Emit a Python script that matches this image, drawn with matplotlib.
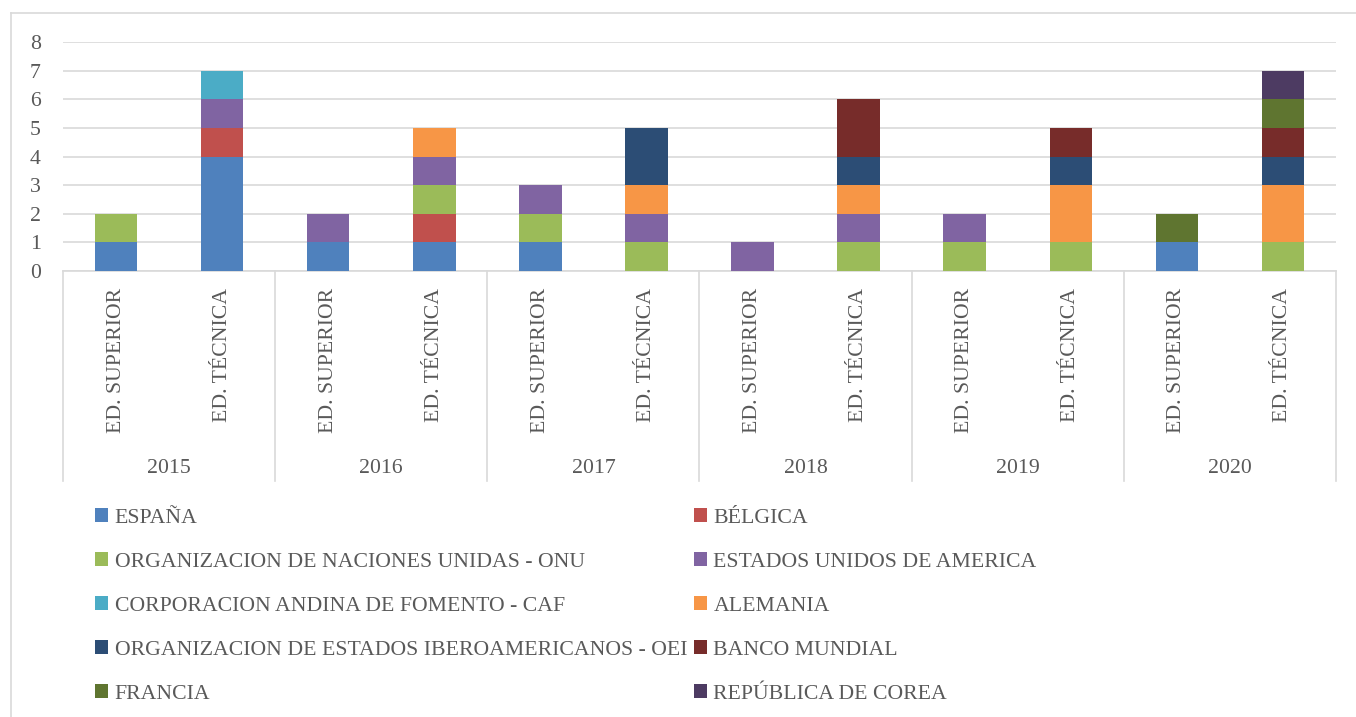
import numpy as np
import matplotlib
matplotlib.use('Agg')
import matplotlib.pyplot as plt
from matplotlib.lines import Line2D
from matplotlib.patches import Patch

plt.rcParams['font.family'] = ['Liberation Serif', 'DejaVu Serif']

txt_color = '#595959'
grid_color = '#D9D9D9'
fs = 15.7

years = ['2015', '2016', '2017', '2018', '2019', '2020']
levels = ['ED. SUPERIOR', 'ED. TÉCNICA']

series_names = ['ESPAÑA', 'BÉLGICA', 'ORGANIZACION DE NACIONES UNIDAS - ONU',
                'ESTADOS UNIDOS DE AMERICA', 'CORPORACION ANDINA DE FOMENTO - CAF',
                'ALEMANIA', 'ORGANIZACION DE ESTADOS IBEROAMERICANOS - OEI',
                'BANCO MUNDIAL', 'FRANCIA', 'REPÚBLICA DE COREA']

espana   = [1, 4, 1, 1, 1, 0, 0, 0, 0, 0, 1, 0]
belgica  = [0, 1, 0, 1, 0, 0, 0, 0, 0, 0, 0, 0]
onu      = [1, 0, 0, 1, 1, 1, 0, 1, 1, 1, 0, 1]
eeuu     = [0, 1, 1, 1, 1, 1, 1, 1, 1, 0, 0, 0]
caf      = [0, 1, 0, 0, 0, 0, 0, 0, 0, 0, 0, 0]
alemania = [0, 0, 0, 1, 0, 1, 0, 1, 0, 2, 0, 2]
oei      = [0, 0, 0, 0, 0, 2, 0, 1, 0, 1, 0, 1]
bm       = [0, 0, 0, 0, 0, 0, 0, 2, 0, 1, 0, 1]
francia  = [0, 0, 0, 0, 0, 0, 0, 0, 0, 0, 1, 1]
corea    = [0, 0, 0, 0, 0, 0, 0, 0, 0, 0, 0, 1]

data = [espana, belgica, onu, eeuu, caf, alemania, oei, bm, francia, corea]
colors = ['#4F81BD', '#C0504D', '#9BBB59', '#8064A2', '#4BACC6',
          '#F79646', '#2C4D75', '#772C2A', '#5F7530', '#4D3B62']

W, H = 1356, 717
fig = plt.figure(figsize=(W / 100, H / 100), dpi=100)
ax = fig.add_axes([63 / W, 1 - 271 / H, (1336 - 63) / W, (271 - 42) / H])

x = np.arange(len(years) * len(levels))
bottom = np.zeros(len(x))
for vals, col in zip(data, colors):
    vals = np.array(vals, dtype=float)
    ax.bar(x, vals, width=0.4, bottom=bottom, color=col, edgecolor='none', zorder=3)
    bottom += vals

ax.set_xlim(-0.5, len(x) - 0.5)
ax.set_ylim(0, 8)
ax.set_yticks(range(0, 9))
ax.yaxis.grid(True, color=grid_color, linewidth=1.2, zorder=0)
ax.set_axisbelow(True)
for s in ['top', 'right', 'left']:
    ax.spines[s].set_visible(False)
ax.spines['bottom'].set_color(grid_color)
ax.spines['bottom'].set_linewidth(1.2)
ax.tick_params(axis='y', length=0, pad=16, labelsize=fs, labelcolor=txt_color)
ax.set_xticks([])

# two-level category axis
trans = ax.get_xaxis_transform()
ax_h = 271 - 42
line_bot = -(481 - 271) / ax_h
for k in range(len(years) + 1):
    xb = k * 2 - 0.5
    ax.plot([xb, xb], [0, line_bot], transform=trans, color=grid_color,
            linewidth=1.2, clip_on=False)
for i, xi in enumerate(x):
    ax.text(xi, -(288 - 271) / ax_h, levels[i % 2], transform=trans, rotation=90,
            ha='center', va='top', fontsize=fs, color=txt_color)
for k, yr in enumerate(years):
    ax.text(k * 2 + 0.5, -(468 - 271) / ax_h, yr, transform=trans,
            ha='center', va='center', fontsize=fs, color=txt_color)

# legend (row-major order like the original)
handles = [Patch(facecolor=c, edgecolor='none') for c in colors]
order = [0, 2, 4, 6, 8, 1, 3, 5, 7, 9]
leg = fig.legend([handles[i] for i in order], [series_names[i] for i in order],
                 ncol=2, loc='upper left', bbox_to_anchor=(95 / W, 1 - 508 / H),
                 frameon=False, fontsize=fs, handlelength=0.6, handleheight=0.6,
                 handletextpad=0.3, labelspacing=1.12, columnspacing=0.3,
                 borderpad=0, borderaxespad=0)
for t in leg.get_texts():
    t.set_color(txt_color)

# chart border
fig.add_artist(Line2D([11 / W, 1], [1 - 13 / H, 1 - 13 / H], color=grid_color, linewidth=1.2))
fig.add_artist(Line2D([11 / W, 11 / W], [0, 1 - 13 / H], color=grid_color, linewidth=1.2))

fig.savefig('out.png', dpi=100)
